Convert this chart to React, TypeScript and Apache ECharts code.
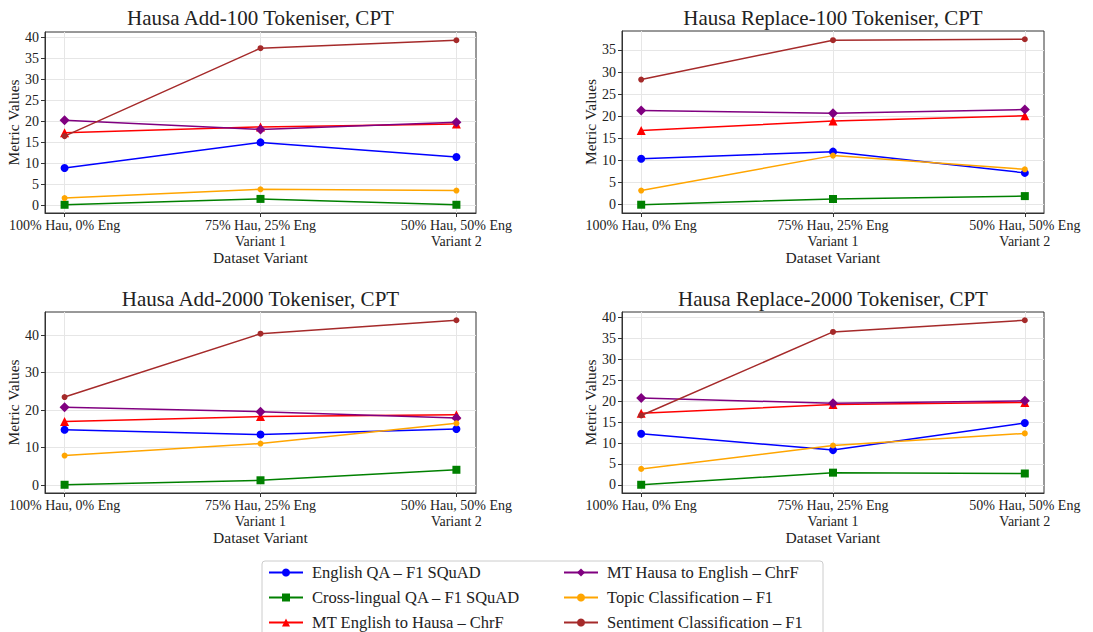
import React, { useEffect, useRef } from "react";
import * as echarts from "echarts";

const categories = ["100% Hau, 0% Eng", "75% Hau, 25% Eng\nVariant 1", "50% Hau, 50% Eng\nVariant 2"];
const seriesNames = [
  "English QA – F1 SQuAD",
  "Cross-lingual QA – F1 SQuAD",
  "MT English to Hausa – ChrF",
  "MT Hausa to English – ChrF",
  "Topic Classification – F1",
  "Sentiment Classification – F1",
];
const seriesColors = ["#0000ff", "#008000", "#ff0000", "#800080", "#ffa500", "#a52a2a"];
const seriesSymbols = ["circle", "rect", "triangle", "diamond", "circle", "circle"];
const seriesSymbolSizes = [8, 8, 9, 10, 6, 6];

const panelTitles = [
  "Hausa Add-100 Tokeniser, CPT",
  "Hausa Replace-100 Tokeniser, CPT",
  "Hausa Add-2000 Tokeniser, CPT",
  "Hausa Replace-2000 Tokeniser, CPT",
];

// values per panel, in series order
const add100Values = [
  [8.9, 15.0, 11.5],
  [0.1, 1.5, 0.1],
  [17.3, 18.7, 19.4],
  [20.3, 18.1, 19.8],
  [1.7, 3.8, 3.5],
  [16.5, 37.5, 39.4],
];
const replace100Values = [
  [10.4, 12.0, 7.2],
  [0.0, 1.3, 1.95],
  [16.8, 18.9, 20.1],
  [21.3, 20.7, 21.5],
  [3.2, 11.1, 8.0],
  [28.3, 37.2, 37.4],
];
const add2000Values = [
  [14.8, 13.5, 15.0],
  [0.1, 1.3, 4.1],
  [17.0, 18.3, 18.8],
  [20.8, 19.6, 17.9],
  [7.9, 11.1, 16.5],
  [23.5, 40.4, 44.0],
];
const replace2000Values = [
  [12.2, 8.3, 14.8],
  [0.0, 2.9, 2.7],
  [17.1, 19.2, 19.7],
  [20.8, 19.5, 20.1],
  [3.8, 9.4, 12.3],
  [16.6, 36.6, 39.4],
];
const panelValues = [add100Values, replace100Values, add2000Values, replace2000Values];

const yTicksAdd100 = [0, 5, 10, 15, 20, 25, 30, 35, 40];
const yTicksReplace100 = [0, 5, 10, 15, 20, 25, 30, 35];
const yTicksAdd2000 = [0, 10, 20, 30, 40];
const yTicksReplace2000 = [0, 5, 10, 15, 20, 25, 30, 35, 40];
const panelYTicks = [yTicksAdd100, yTicksReplace100, yTicksAdd2000, yTicksReplace2000];
const xTicks = [0, 1, 2];

const FONT = "Liberation Serif, DejaVu Serif, serif";
const TEXT_COLOR = "#222";
const GRID_COLOR = "#e6e6e6";

const grids = [
  { left: 45, top: 32, width: 431, height: 181 },
  { left: 622, top: 31, width: 422, height: 182 },
  { left: 45, top: 312, width: 431, height: 181 },
  { left: 622, top: 312, width: 422, height: 181 },
];
const titleY = [18, 18, 299, 299];

function buildOption() {
  const grid = grids.map((g) => ({
    ...g,
    show: true,
    borderColor: "#333",
    borderWidth: 1,
    backgroundColor: "transparent",
    containLabel: false,
  }));

  const xAxis = grids.map((_, i) => ({
    type: "value",
    gridIndex: i,
    min: -0.1,
    max: 2.1,
    name: "Dataset Variant",
    nameLocation: "middle",
    nameGap: 36,
    nameTextStyle: { fontFamily: FONT, fontSize: 15.5, color: TEXT_COLOR },
    axisLine: { show: true, onZero: false, lineStyle: { color: "#333", width: 1 } },
    axisTick: { show: true, length: 4, customValues: xTicks, lineStyle: { color: "#333" } },
    axisLabel: {
      customValues: xTicks,
      formatter: (v: number) => categories[Math.round(v)],
      fontFamily: FONT,
      fontSize: 14,
      color: TEXT_COLOR,
      lineHeight: 16,
      margin: 4,
      align: "center",
    },
    splitLine: { show: false },
  }));

  const yAxis = grids.map((_, i) => {
    const vals = panelValues[i].flat();
    const dmax = Math.max(...vals);
    const dmin = Math.min(...vals);
    const pad = (dmax - dmin) * 0.05;
    return {
      type: "value",
      gridIndex: i,
      min: dmin - pad,
      max: dmax + pad,
      name: "Metric Values",
      nameLocation: "middle",
      nameGap: 22,
      nameTextStyle: { fontFamily: FONT, fontSize: 15.5, color: TEXT_COLOR },
      axisLine: { show: true, onZero: false, lineStyle: { color: "#333", width: 1 } },
      axisTick: { show: true, length: 4, customValues: panelYTicks[i], lineStyle: { color: "#333" } },
      axisLabel: {
        customValues: panelYTicks[i],
        fontFamily: FONT,
        fontSize: 14,
        color: TEXT_COLOR,
        margin: 6,
      },
      splitLine: { show: true, lineStyle: { color: GRID_COLOR, width: 1 } },
    };
  });

  const series: any[] = [];
  panelValues.forEach((vals, p) => {
    vals.forEach((arr, s) => {
      const item: any = {
        type: "line",
        name: seriesNames[s],
        xAxisIndex: p,
        yAxisIndex: p,
        data: arr.map((v, k) => [xTicks[k], v]),
        symbol: seriesSymbols[s],
        symbolSize: seriesSymbolSizes[s],
        showSymbol: true,
        color: seriesColors[s],
        lineStyle: { color: seriesColors[s], width: 1.5 },
        itemStyle: { color: seriesColors[s] },
        emphasis: { disabled: true },
        z: 3 + s,
      };
      if (s === 0) {
        item.markLine = {
          silent: true,
          symbol: "none",
          label: { show: false },
          lineStyle: { color: GRID_COLOR, width: 1, type: "solid" },
          data: xTicks.map((x) => ({ xAxis: x })),
          z: 1,
        };
      }
      series.push(item);
    });
  });

  const legendCommon = {
    orient: "vertical",
    itemWidth: 34,
    itemHeight: 10,
    itemGap: 8,
    selectedMode: false,
    textStyle: { fontFamily: FONT, fontSize: 16.5, color: TEXT_COLOR, padding: [0, 0, 0, 4] },
    padding: 0,
  };
  const legend = [
    { ...legendCommon, left: 268, top: 564, data: seriesNames.slice(0, 3) },
    { ...legendCommon, left: 563, top: 564, data: seriesNames.slice(3, 6) },
  ];

  const graphic: any[] = [
    {
      type: "rect",
      shape: { x: 262, y: 561, width: 561, height: 90, r: 3 },
      style: { fill: "#fff", stroke: "#cccccc", lineWidth: 1 },
      z: -10,
      silent: true,
    },
  ];
  grids.forEach((g, i) => {
    graphic.push({
      type: "text",
      x: g.left + g.width / 2,
      y: titleY[i],
      style: {
        text: panelTitles[i],
        font: `21px ${FONT}`,
        fill: TEXT_COLOR,
        textAlign: "center",
        textVerticalAlign: "middle",
      },
      silent: true,
    });
  });

  return {
    animation: false,
    backgroundColor: "#ffffff",
    grid,
    xAxis,
    yAxis,
    series,
    legend,
    graphic,
  };
}

export default function App() {
  const ref = useRef<HTMLDivElement>(null);
  useEffect(() => {
    if (!ref.current) return;
    const chart = echarts.init(ref.current, undefined, { renderer: "svg" });
    chart.setOption(buildOption() as any);
    return () => chart.dispose();
  }, []);
  return (
    <div
      ref={ref}
      style={{ position: "fixed", left: 0, top: 0, width: 1093, height: 632, background: "#fff" }}
    />
  );
}
